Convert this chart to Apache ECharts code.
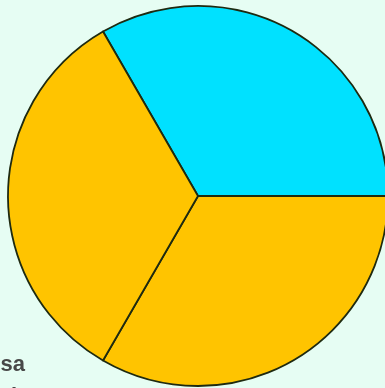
<!DOCTYPE html>
<html><head><meta charset="utf-8">
<script src="https://cdn.jsdelivr.net/npm/echarts@6/dist/echarts.min.js"></script>
<style>html,body{margin:0;padding:0;background:#e6fdf3;}#c{width:385px;height:388px;}</style>
</head><body><div id="c"></div>
<script>
const categories = ['A', 'B', 'C'];
const values = [1, 1, 1];
const colors = ['#00e1ff', '#ffc400', '#ffc400'];
const legendLabels = ['Mesa', 'Tierra'];

const chart = echarts.init(document.getElementById('c'), null, {renderer: 'canvas'});
chart.setOption({
  backgroundColor: '#e6fdf3',
  animation: false,
  series: [{
    type: 'pie',
    center: [198, 196],
    radius: 190,
    startAngle: 120,
    clockwise: true,
    label: {show: false},
    labelLine: {show: false},
    itemStyle: {borderColor: '#1e2a10', borderWidth: 1.8},
    emphasis: {disabled: true},
    data: categories.map((c, i) => ({name: c, value: values[i], itemStyle: {color: colors[i]}}))
  }],
  graphic: [
    {type: 'text', style: {x: 25, y: 376, text: legendLabels[0], align: 'right', verticalAlign: 'bottom', font: 'bold 22px "Liberation Sans", Arial, sans-serif', fill: '#484848'}},
    {type: 'text', style: {x: -2, y: 408, text: legendLabels[1], align: 'left', verticalAlign: 'bottom', font: 'bold 22px "Liberation Sans", Arial, sans-serif', fill: '#484848'}}
  ]
});
</script></body></html>
